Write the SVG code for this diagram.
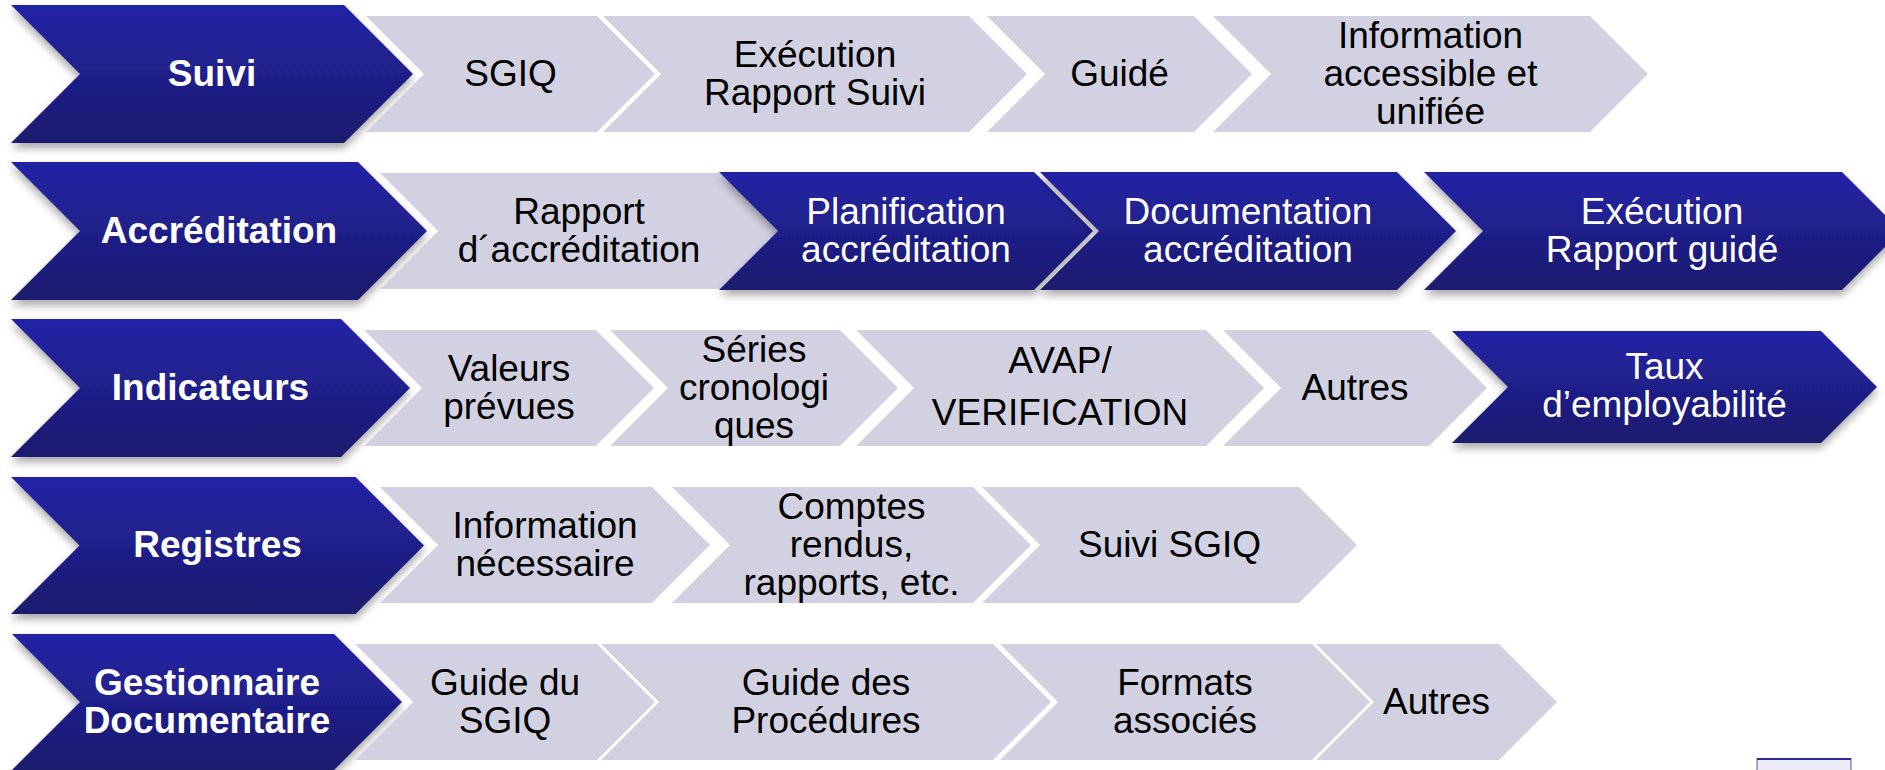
<svg xmlns="http://www.w3.org/2000/svg" width="1885" height="770" viewBox="0 0 1885 770">
<defs>
<linearGradient id="gd" x1="0" y1="0" x2="0" y2="1">
<stop offset="0" stop-color="#2424A6"/>
<stop offset="1" stop-color="#1B1B6E"/>
</linearGradient>
<filter id="sh" x="-5%" y="-10%" width="110%" height="130%">
<feDropShadow dx="0" dy="5" stdDeviation="4" flood-color="#000" flood-opacity="0.35"/>
</filter>
</defs>
<style>
.dark{fill:url(#gd);filter:url(#sh)}
.light{fill:#D1D1E2}
.t{font-family:"Liberation Sans",Arial,sans-serif;font-size:37px;text-anchor:middle;fill:#000}
.tb{font-weight:bold;fill:#fff}
.tw{fill:#fff}
</style>
<rect width="1885" height="770" fill="#fff"/>

<!-- Row 1 -->
<g id="suivi"><polygon class="dark" points="11,5 344,5 413,74 344,143 11,143 80,74"/><text class="t tb" x="212" y="85.5">Suivi</text></g>
<g id="sgiq"><polygon class="light" points="366,16 597,16 655,74 597,132 366,132 424,74"/><text class="t" x="510.5" y="85.5">SGIQ</text></g>
<g id="execution-rapport-suivi"><polygon class="light" points="603,16 969,16 1027,74 969,132 603,132 661,74"/><text class="t" x="815" y="66.5">Exécution<tspan x="815" dy="38">Rapport Suivi</tspan></text></g>
<g id="guide"><polygon class="light" points="987,16 1194,16 1252,74 1194,132 987,132 1045,74"/><text class="t" x="1119.5" y="85.5">Guidé</text></g>
<g id="information-accessible"><polygon class="light" points="1213,16 1590,16 1648,74 1590,132 1213,132 1271,74"/><text class="t" x="1430.5" y="47.5">Information<tspan x="1430.5" dy="38">accessible et</tspan><tspan x="1430.5" dy="38">unifiée</tspan></text></g>

<!-- Row 2 -->
<g id="accreditation"><polygon class="dark" points="11,162 358,162 427,231 358,300 11,300 80,231"/><text class="t tb" x="219" y="242.5">Accréditation</text></g>
<g id="rapport-accreditation"><polygon class="light" points="380,173 720,173 778,231 720,289 380,289 438,231"/><text class="t" x="579" y="223.5">Rapport<tspan x="579" dy="38">d´accréditation</tspan></text></g>
<g id="planification-accreditation"><polygon class="dark" points="719,172 1034,172 1093,231 1034,290 719,290 778,231"/><text class="t tw" x="906" y="223.5">Planification<tspan x="906" dy="38">accréditation</tspan></text></g>
<g id="documentation-accreditation"><polygon class="dark" points="1040,172 1397,172 1456,231 1397,290 1040,290 1099,231"/><text class="t tw" x="1248" y="223.5">Documentation<tspan x="1248" dy="38">accréditation</tspan></text></g>
<g id="execution-rapport-guide"><polygon class="dark" points="1424,172 1842,172 1901,231 1842,290 1424,290 1483,231"/><text class="t tw" x="1662" y="223.5">Exécution<tspan x="1662" dy="38">Rapport guidé</tspan></text></g>

<!-- Row 3 -->
<g id="indicateurs"><polygon class="dark" points="11,319 341,319 410,388 341,457 11,457 80,388"/><text class="t tb" x="210.5" y="399.5">Indicateurs</text></g>
<g id="valeurs-prevues"><polygon class="light" points="364,330 596,330 654,388 596,446 364,446 422,388"/><text class="t" x="509" y="380.5">Valeurs<tspan x="509" dy="38">prévues</tspan></text></g>
<g id="series-cronologiques"><polygon class="light" points="610,330 840,330 898,388 840,446 610,446 668,388"/><text class="t" x="754" y="361.5">Séries<tspan x="754" dy="38">cronologi</tspan><tspan x="754" dy="38">ques</tspan></text></g>
<g id="avap-verification"><polygon class="light" points="856,330 1206,330 1264,388 1206,446 856,446 914,388"/><text class="t" x="1060" y="373">AVAP/<tspan x="1060" dy="52">VERIFICATION</tspan></text></g>
<g id="autres-indicateurs"><polygon class="light" points="1223,330 1429,330 1487,388 1429,446 1223,446 1281,388"/><text class="t" x="1355" y="399.5">Autres</text></g>
<g id="taux-employabilite"><polygon class="dark" points="1452,331 1821,331 1877,387 1821,443 1452,443 1508,387"/><text class="t tw" x="1664.5" y="379">Taux<tspan x="1664.5" dy="38">d’employabilité</tspan></text></g>

<!-- Row 4 -->
<g id="registres"><polygon class="dark" points="11,477 355.5,477 424,545.5 355.5,614 11,614 79.5,545.5"/><text class="t tb" x="217.5" y="557">Registres</text></g>
<g id="information-necessaire"><polygon class="light" points="380,487 652,487 710,545 652,603 380,603 438,545"/><text class="t" x="545" y="537.5">Information<tspan x="545" dy="38">nécessaire</tspan></text></g>
<g id="comptes-rendus"><polygon class="light" points="672,487 973,487 1031,545 973,603 672,603 730,545"/><text class="t" x="851.5" y="518.5">Comptes<tspan x="851.5" dy="38">rendus,</tspan><tspan x="851.5" dy="38">rapports, etc.</tspan></text></g>
<g id="suivi-sgiq"><polygon class="light" points="982,487 1299,487 1357,545 1299,603 982,603 1040,545"/><text class="t" x="1169.5" y="556.5">Suivi SGIQ</text></g>

<!-- Row 5 -->
<g id="gestionnaire-documentaire"><polygon class="dark" points="12,634 334,634 402,702 334,770 12,770 80,702"/><text class="t tb" x="207" y="694.5">Gestionnaire<tspan x="207" dy="38">Documentaire</tspan></text></g>
<g id="guide-sgiq"><polygon class="light" points="355,644 597,644 655,702 597,760 355,760 413,702"/><text class="t" x="505" y="694.5">Guide du<tspan x="505" dy="38">SGIQ</tspan></text></g>
<g id="guide-procedures"><polygon class="light" points="601,644 993,644 1051,702 993,760 601,760 659,702"/><text class="t" x="826" y="694.5">Guide des<tspan x="826" dy="38">Procédures</tspan></text></g>
<g id="formats-associes"><polygon class="light" points="1000,644 1312,644 1370,702 1312,760 1000,760 1058,702"/><text class="t" x="1185" y="694.5">Formats<tspan x="1185" dy="38">associés</tspan></text></g>
<g id="autres-documents"><polygon class="light" points="1316,644 1499,644 1557,702 1499,760 1316,760 1374,702"/><text class="t" x="1436.5" y="713.5">Autres</text></g>

<g id="corner-box"><rect x="1757" y="759" width="94" height="20" fill="#ECECF6" stroke="#8C8CB8" stroke-width="1.5"/><line x1="1757" y1="759" x2="1851" y2="759" stroke="#2A2A9A" stroke-width="2"/></g>

<g id="connectors"/>
</svg>
